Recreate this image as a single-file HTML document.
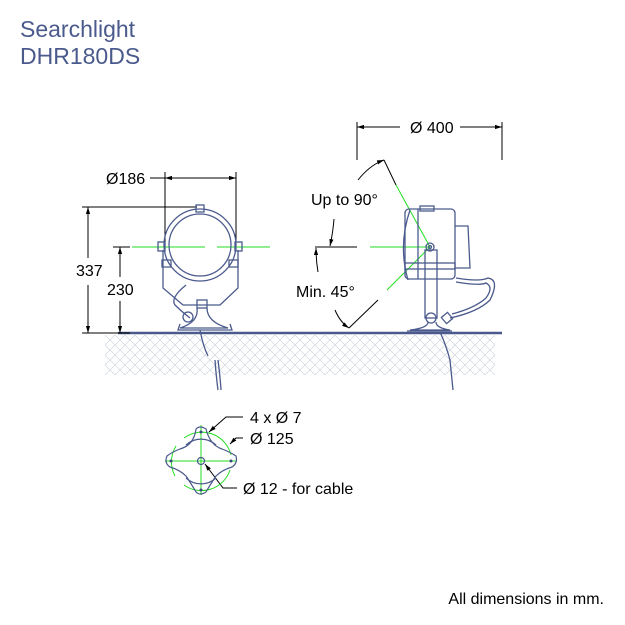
<!DOCTYPE html>
<html><head><meta charset="utf-8"><style>
body{margin:0;background:#fff}
svg{display:block}
text{font-family:"Liberation Sans",sans-serif}
</style></head><body>
<svg width="625" height="625" viewBox="0 0 625 625" xmlns="http://www.w3.org/2000/svg">
<defs>
<pattern id="h" width="10" height="10" patternUnits="userSpaceOnUse">
<path d="M0 0L10 10M10 0L0 10" stroke="#c8ccd8" stroke-width="0.6"/>
</pattern>
<marker id="a" viewBox="0 0 10 10" refX="10" refY="5" markerWidth="7" markerHeight="7" orient="auto-start-reverse"><path d="M0 2L10 5L0 8z" fill="#000"/></marker>
</defs>
<text x="20" y="37" font-size="23" fill="#4a5a8c">Searchlight</text>
<text x="20" y="64" font-size="23" fill="#4a5a8c">DHR180DS</text>
<text x="604" y="604" font-size="16" text-anchor="end" fill="#000">All dimensions in mm.</text>

<rect x="105" y="335" width="390" height="40" fill="url(#h)"/>
<line x1="118" y1="333" x2="502" y2="333" stroke="#4a5a8c" stroke-width="2.5"/>

<g stroke="#000" stroke-width="1" fill="none">
<line x1="82" y1="207" x2="197" y2="207"/>
<line x1="82" y1="333" x2="130" y2="333"/>
<line x1="88" y1="207" x2="88" y2="258" marker-start="url(#a)"/>
<line x1="88" y1="285" x2="88" y2="333" marker-end="url(#a)"/>
<line x1="113" y1="247" x2="130" y2="247"/>
<line x1="120" y1="247" x2="120" y2="277" marker-start="url(#a)"/>
<line x1="120" y1="301" x2="120" y2="333" marker-end="url(#a)"/>
<line x1="165" y1="172" x2="165" y2="250"/>
<line x1="236" y1="172" x2="236" y2="250"/>
<line x1="165" y1="178" x2="236" y2="178" marker-start="url(#a)" marker-end="url(#a)"/>
<line x1="150" y1="178" x2="165" y2="178"/>
<line x1="357" y1="122" x2="357" y2="160"/>
<line x1="502" y1="122" x2="502" y2="160"/>
<line x1="357" y1="127" x2="400" y2="127" marker-start="url(#a)"/>
<line x1="460" y1="127" x2="502" y2="127" marker-end="url(#a)"/>
<path d="M358 180Q370 165 384 160" marker-end="url(#a)"/>
<line x1="384" y1="160" x2="396" y2="185"/>
<path d="M334 219Q333 232 330 246" marker-end="url(#a)"/>
<line x1="315" y1="247" x2="357" y2="247"/>
<path d="M318 272Q316 260 316 248" marker-end="url(#a)"/>
<path d="M335 310Q340 322 349 328" marker-end="url(#a)"/>
<line x1="349" y1="328" x2="378" y2="300"/>
<polyline points="243,417 226,417 209,432" marker-end="url(#a)"/>
<polyline points="243,438 236,438 230,444" marker-end="url(#a)"/>
<polyline points="237,488 223,488 205,464" marker-end="url(#a)"/>
</g>

<g font-size="16" fill="#000">
<text x="106" y="184">Ø186</text>
<text x="76" y="276">337</text>
<text x="107" y="295">230</text>
<text x="410" y="133">Ø 400</text>
<text x="311" y="205">Up to 90°</text>
<text x="296" y="297">Min. 45°</text>
<text x="250" y="423">4 x Ø 7</text>
<text x="250" y="444">Ø 125</text>
<text x="243" y="494">Ø 12 - for cable</text>
</g>

<g stroke="#22dd22" stroke-width="1">
<line x1="132" y1="247" x2="205" y2="247"/>
<line x1="217" y1="247" x2="270" y2="247"/>
<line x1="370" y1="247" x2="430" y2="247"/>
<line x1="396" y1="185" x2="430" y2="247"/>
<line x1="430" y1="247" x2="387" y2="290"/>
<line x1="165" y1="461" x2="237" y2="461"/>
<line x1="201" y1="425" x2="201" y2="495"/>
<path d="M184 438A30 30 0 0 1 231 455M230 470A30 30 0 0 1 184 485M175 476A30 30 0 0 1 176 446" fill="none"/>
</g>

<g stroke="#4a5a8c" stroke-width="1.3" fill="none">
<circle cx="200" cy="245" r="36"/>
<circle cx="200" cy="245" r="31"/>
<rect x="196" y="205" width="8" height="7"/>
<polyline points="163,250 163,288 183,305 220,305 238,288 238,250"/>
<rect x="158" y="242" width="7" height="9"/>
<rect x="235" y="242" width="7" height="9"/>
<rect x="162" y="260" width="9" height="7"/>
<rect x="229" y="260" width="9" height="7"/>
<rect x="197" y="300" width="10" height="8"/>
<path d="M197 308Q199 322 180 328L228 328Q207 322 207 308"/>
<path d="M180 324L178 330L232 330L230 324"/>
<path d="M186 285Q170 298 175 305Q182 312 190 318"/>
<circle cx="188" cy="317" r="5"/>
<path d="M200 330Q203 346 208 356M215 360Q216 375 218 390M218 360Q220 375 221 390"/>
</g>

<g stroke="#4a5a8c" stroke-width="1.3" fill="none">
<path d="M410 210Q398 245 408 280"/>
<rect x="405" y="209" width="50" height="70" rx="4"/>
<line x1="418" y1="209" x2="418" y2="279"/>
<rect x="420" y="206" width="14" height="5"/>
<path d="M455 226L468 226L470 268L455 268"/>
<rect x="405" y="263" width="50" height="6"/>
<circle cx="430" cy="247" r="4"/>
<circle cx="430" cy="247" r="1.5"/>
<rect x="425" y="250" width="12" height="68"/>
<circle cx="431" cy="318" r="5"/>
<path d="M428 322Q428 328 410 330L450 330Q436 328 436 322"/>
<path d="M407 331L452 331"/>
<path d="M456 278Q480 282 488 278Q500 280 490 300Q478 312 450 318"/>
<path d="M456 282Q480 286 486 283Q494 287 486 298Q475 308 452 314"/>
<rect x="443" y="314" width="8" height="8" transform="rotate(-40 447 318)"/>
<path d="M440 332Q446 345 450 360L453 390"/>
</g>

<g stroke="#4a5a8c" stroke-width="1.2" fill="none">
<path d="M196 429Q200 425 206 429Q210 445 222 449Q230 452 236 456Q238 463 232 467Q222 470 216 476Q210 485 206 492Q200 496 196 492Q192 485 186 476Q180 470 170 467Q164 463 167 456Q172 452 180 449Q194 445 196 429z"/>
<path d="M186 445A22 22 0 0 1 216 445M216 478A22 22 0 0 1 186 478"/>
<circle cx="201" cy="461" r="3.5"/>
</g>
<g fill="#3a4a7c">
<circle cx="201" cy="432" r="1.5"/><circle cx="201" cy="490" r="1.5"/>
<circle cx="171" cy="461" r="1.5"/><circle cx="231" cy="461" r="1.5"/>
</g>
</svg>
</body></html>
